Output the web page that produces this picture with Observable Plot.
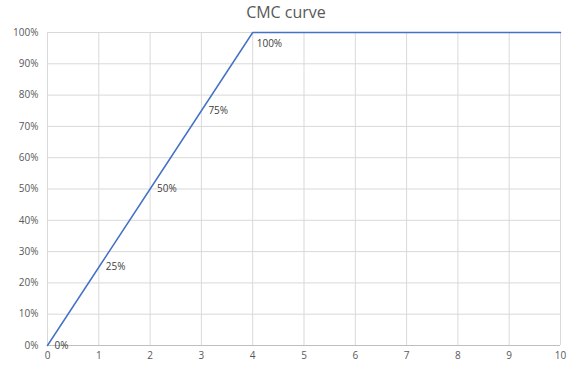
<!DOCTYPE html>
<html>
<head>
<meta charset="utf-8">
<script src="https://cdn.jsdelivr.net/npm/d3@7"></script>
<script src="https://cdn.jsdelivr.net/npm/@observablehq/plot@0.6"></script>
<style>
  body { margin: 0; background: #fff; font-family: "Open Sans", sans-serif; }
  #title { width: 572px; height: 22px; line-height: 24px; text-align: center; font-size: 16px; color: #595959; }
</style>
</head>
<body>
<div id="title">CMC curve</div>
<div id="chart"></div>
<script>
// Cumulative match characteristic by rank
const ranks = [0, 1, 2, 3, 4, 5, 6, 7, 8, 9, 10];
const rates = [0, 0.25, 0.5, 0.75, 1, 1, 1, 1, 1, 1, 1];
const labelCount = 5; // only the first five points carry a value label
const xTicks = [0, 1, 2, 3, 4, 5, 6, 7, 8, 9, 10];
const yTicks = [0, 0.1, 0.2, 0.3, 0.4, 0.5, 0.6, 0.7, 0.8, 0.9, 1];

const data = ranks.map((r, i) => ({rank: r, rate: rates[i]}));
const labelled = data.slice(0, labelCount);
const pct = d => `${Math.round(d * 100)}%`;

const chart = Plot.plot({
  width: 572,
  height: 345,
  marginTop: 10,
  marginBottom: 22,
  marginLeft: 47,
  marginRight: 12,
  style: {fontFamily: "Open Sans, sans-serif", fontSize: "10px", color: "#595959", background: "#fff"},
  x: {domain: [0, 10], ticks: xTicks, tickSize: 0, tickPadding: 6, label: null},
  y: {domain: [0, 1], ticks: yTicks, tickSize: 0, tickPadding: 9, tickFormat: pct, label: null},
  marks: [
    Plot.gridX(xTicks, {stroke: "#d9d9d9", strokeOpacity: 1}),
    Plot.gridY(yTicks, {stroke: "#d9d9d9", strokeOpacity: 1}),
    Plot.ruleY([0], {stroke: "#bfbfbf"}),
    Plot.axisX({ticks: xTicks, tickSize: 0, tickPadding: 6, fill: "#595959"}),
    Plot.axisY({ticks: yTicks, tickSize: 0, tickPadding: 9, tickFormat: pct, fill: "#595959"}),
    Plot.line(data, {x: "rank", y: "rate", stroke: "#4472c4", strokeWidth: 1.5}),
    Plot.text(labelled.filter(d => d.rate < 1), {x: "rank", y: "rate", text: d => pct(d.rate), textAnchor: "start", dx: 7, fill: "#404040"}),
    Plot.text(labelled.filter(d => d.rate >= 1), {x: "rank", y: "rate", text: d => pct(d.rate), textAnchor: "start", dx: 4, dy: 11, fill: "#404040"})
  ]
});
document.getElementById("chart").append(chart);
</script>
</body>
</html>
